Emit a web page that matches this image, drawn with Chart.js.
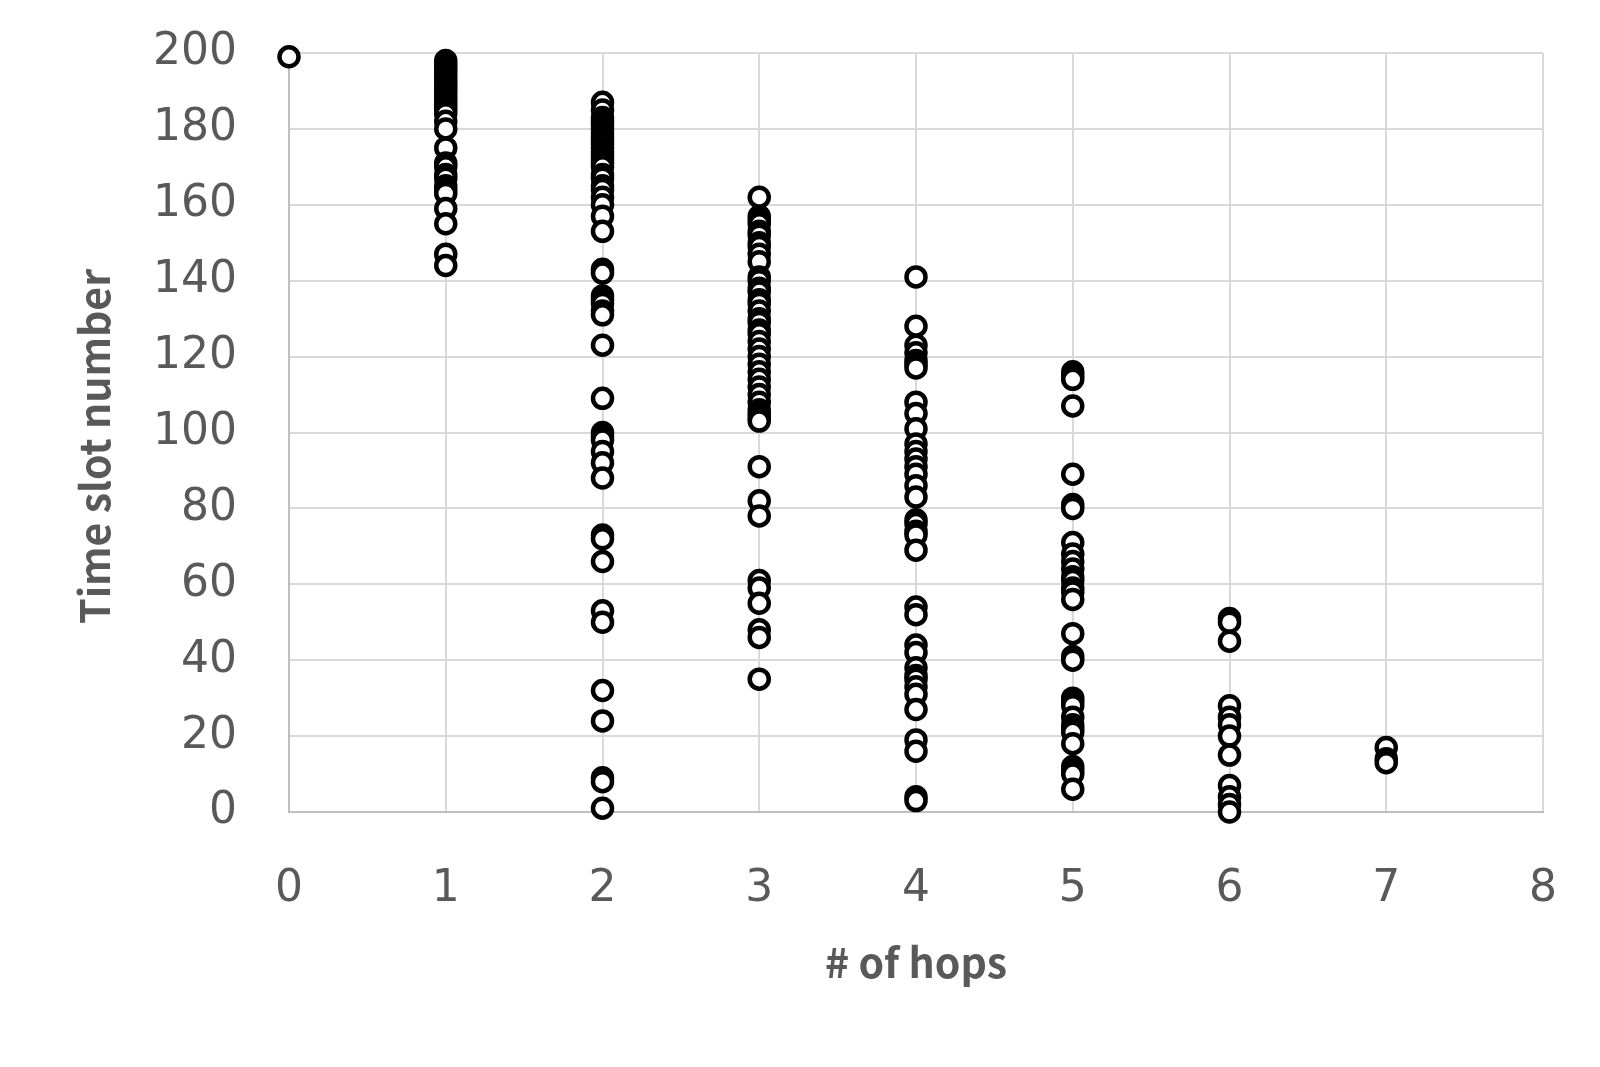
<!DOCTYPE html>
<html>
<head>
<meta charset="utf-8">
<script src="https://cdn.jsdelivr.net/npm/chart.js@4.4.1/dist/chart.umd.min.js"></script>
<style>
    body { margin: 0; background: #fff; }
    canvas { display: block; }
</style>
</head>
<body>
<canvas id="hopsChart" width="1600" height="1067"></canvas>
<script>
// time slot numbers observed for each hop count
var hops0 = [199];
var hops1 = [198, 197, 196, 195, 194, 193, 192, 191, 190, 189, 188, 187, 186, 185, 184, 182, 180, 175, 171, 170, 168, 167, 165, 164, 163, 159, 155, 147, 144];
var hops2 = [187, 185, 183, 182, 181, 180, 179, 178, 177, 176, 175, 174, 173, 172, 171, 170, 168, 167, 165, 164, 162, 160, 157, 153, 143, 142, 136, 135, 134, 132, 131, 123, 109, 100, 99, 98, 95, 92, 88, 73, 72, 66, 53, 50, 32, 24, 9, 8, 1];
var hops3 = [162, 157, 156, 155, 153, 152, 150, 149, 147, 145, 141, 140, 138, 137, 135, 134, 132, 130, 129, 127, 126, 124, 122, 120, 118, 116, 114, 112, 110, 108, 106, 105, 104, 103, 91, 82, 78, 61, 59, 55, 48, 46, 35];
var hops4 = [141, 128, 123, 121, 119, 118, 117, 108, 105, 101, 97, 95, 93, 91, 89, 86, 83, 77, 76, 74, 73, 69, 54, 52, 44, 42, 38, 36, 35, 33, 31, 27, 19, 16, 4, 3];
var hops5 = [116, 115, 114, 107, 89, 81, 80, 71, 68, 66, 64, 62, 61, 59, 58, 56, 47, 41, 40, 30, 29, 28, 25, 23, 22, 21, 18, 12, 11, 10, 6];
var hops6 = [51, 50, 45, 28, 25, 23, 20, 15, 7, 4, 2, 0];
var hops7 = [17, 14, 13];

var slotsByHop = [hops0, hops1, hops2, hops3, hops4, hops5, hops6, hops7];

var points = [];
slotsByHop.forEach(function (slots, hop) {
    slots.forEach(function (slot) {
        points.push({ x: hop, y: slot });
    });
});

var tickFont = '"DejaVu Sans", sans-serif';
var titleFont = '"Noto Sans CJK JP", "Noto Sans", sans-serif';

var ctx = document.getElementById('hopsChart').getContext('2d');
var hopsChart = new Chart(ctx, {
    type: 'scatter',
    data: {
        datasets: [{
            label: 'Time slot',
            data: points,
            clip: false,
            pointRadius: 9.5,
            pointBorderWidth: 4.5,
            pointBorderColor: '#000000',
            pointBackgroundColor: '#ffffff'
        }]
    },
    options: {
        responsive: false,
        animation: false,
        layout: {
            padding: { left: 0, right: 57, top: 53, bottom: 40 }
        },
        scales: {
            x: {
                min: 0,
                max: 8,
                afterFit: function (scale) { scale.height = 1067 - 40 - 812; },
                title: {
                    display: true,
                    text: '# of hops',
                    color: '#595959',
                    padding: { top: 0, bottom: 40 },
                    font: { family: titleFont, size: 41, weight: 'bold' }
                },
                ticks: {
                    stepSize: 1,
                    padding: 0,
                    color: '#595959',
                    font: { family: tickFont, size: 44 }
                },
                grid: {
                    color: '#d9d9d9',
                    lineWidth: 2,
                    drawTicks: true,
                    tickLength: 51,
                    tickColor: 'rgba(0,0,0,0)'
                },
                border: { color: '#bfbfbf', width: 2 }
            },
            y: {
                min: 0,
                max: 200,
                afterFit: function (scale) { scale.width = 289; },
                title: {
                    display: true,
                    // trailing spaces nudge the rotated title slightly downward
                    text: 'Time slot number\u00a0\u00a0\u00a0',
                    color: '#595959',
                    padding: { top: 70, bottom: 0 },
                    font: { family: titleFont, size: 41, weight: 'bold' }
                },
                ticks: {
                    stepSize: 20,
                    padding: 0,
                    color: '#595959',
                    font: { family: tickFont, size: 44 }
                },
                grid: {
                    color: '#d9d9d9',
                    lineWidth: 2,
                    drawTicks: true,
                    tickLength: 52,
                    tickColor: 'rgba(0,0,0,0)'
                },
                border: { color: '#bfbfbf', width: 2 }
            }
        },
        plugins: {
            legend: { display: false },
            tooltip: { enabled: false }
        }
    }
});
</script>
</body>
</html>
